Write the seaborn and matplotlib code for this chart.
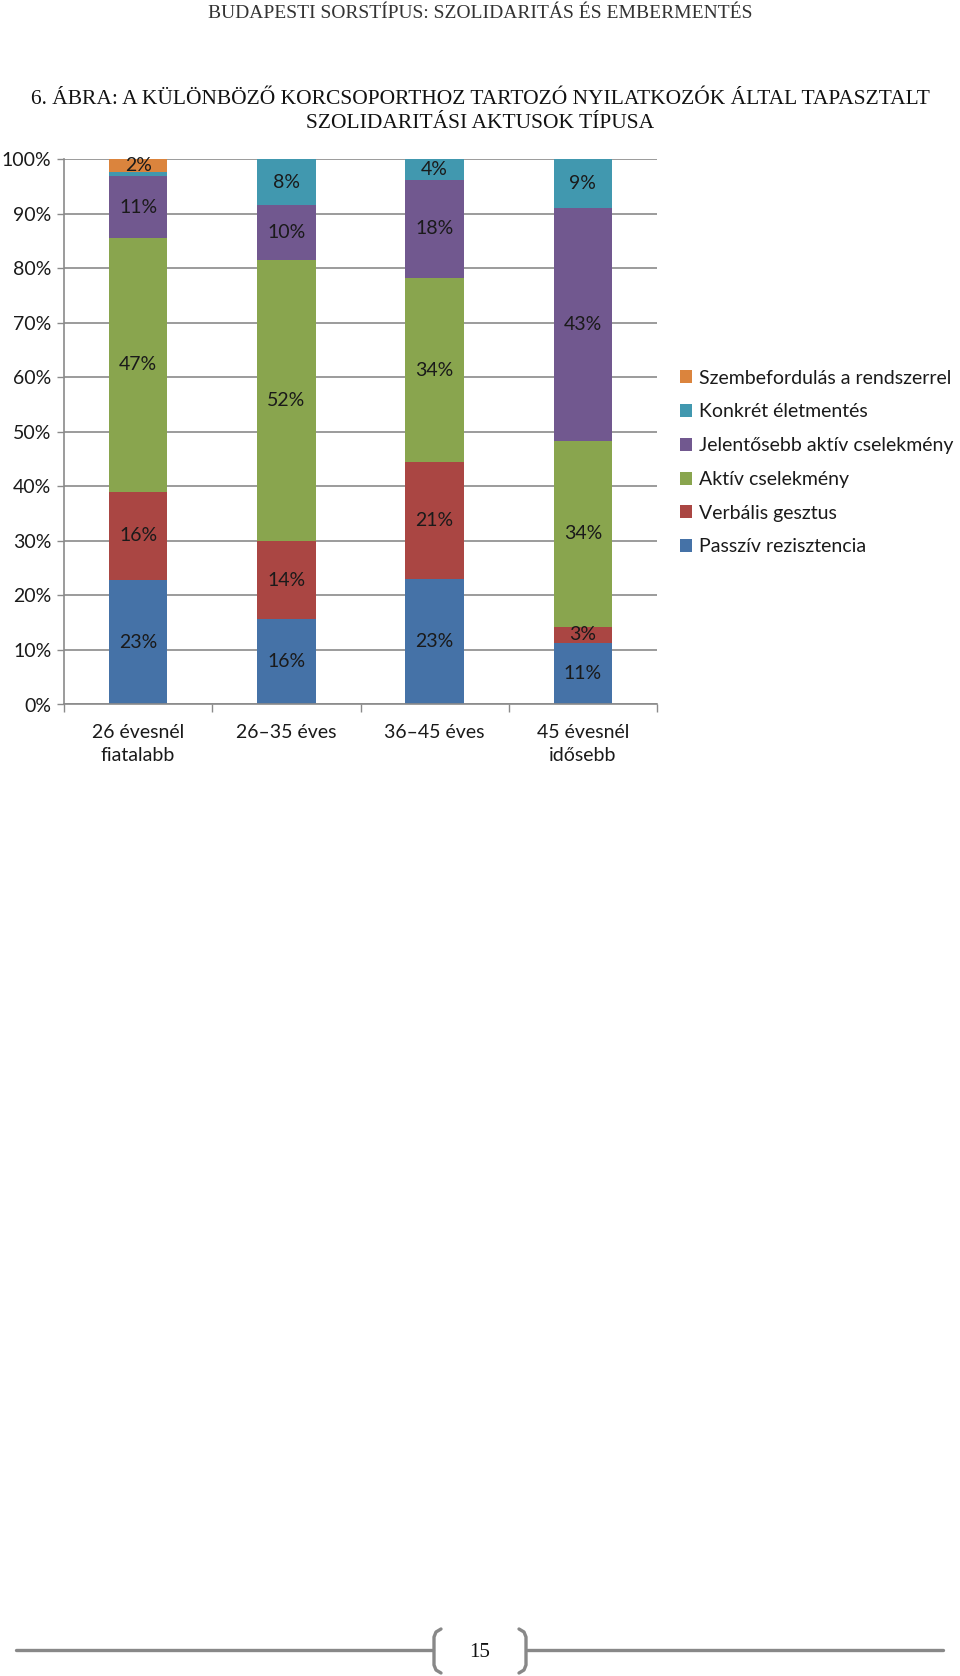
import numpy as np
import matplotlib
matplotlib.use("Agg")
import matplotlib.pyplot as plt
import seaborn as sns
from matplotlib.patches import Patch
from matplotlib.lines import Line2D

# age groups and the six stacked series (percent, bottom to top)
categories = ["26 évesnél\nfiatalabb", "26–35 éves", "36–45 éves", "45 évesnél\nidősebb"]
passziv = [22.9, 15.7, 23.0, 11.3]
verbalis = [16.1, 14.2, 21.4, 3.0]
aktiv = [46.6, 51.7, 33.9, 34.1]
jelentosebb = [11.3, 10.0, 17.9, 42.6]
konkret = [0.7, 8.4, 3.8, 9.0]
szembe = [2.4, 0.0, 0.0, 0.0]

series_names = ["Passzív rezisztencia", "Verbális gesztus", "Aktív cselekmény",
                "Jelentősebb aktív cselekmény", "Konkrét életmentés",
                "Szembefordulás a rendszerrel"]
series_values = [passziv, verbalis, aktiv, jelentosebb, konkret, szembe]
colors = ["#4572A7", "#AA4643", "#89A54E", "#71588F", "#4198AF", "#DB843D"]
yticks = list(range(0, 101, 10))

sns.set_style("white")
plt.rcParams["font.family"] = ["Lato", "DejaVu Sans"]

W, H = 960, 1676
fig = plt.figure(figsize=(W / 100, H / 100), dpi=100)
fig.patch.set_facecolor("white")

# axes placed in pixel terms
left, right, top, bottom = 64, 657, 159.3, 704.5
ax = fig.add_axes([left / W, 1 - bottom / H, (right - left) / W, (bottom - top) / H])

text_col = "#1a1a1a"
grid_col = "#8a8a8a"

base = np.zeros(len(categories))
for name, vals, col in zip(series_names, series_values, colors):
    sns.barplot(x=categories, y=vals, order=categories, bottom=base.copy(),
                color=col, width=0.395, saturation=1, linewidth=0, ax=ax)
    labels = [f"{v:.0f}%" if v >= 1 else "" for v in vals]
    ax.bar_label(ax.containers[-1], labels=labels, label_type="center",
                 fontsize=14, color=text_col)
    base += np.array(vals)

ax.set_ylim(0, 100)
ax.set_xlim(-0.5, len(categories) - 0.5)
ax.set_yticks(yticks)
ax.set_yticklabels([f"{t}%" for t in yticks], fontsize=14, color=text_col)
for lab in ax.get_xticklabels():
    lab.set_linespacing(1.45)
ax.yaxis.grid(True, color=grid_col, linewidth=1.2)
ax.set_axisbelow(True)
ax.tick_params(axis="x", length=0, pad=14, labelsize=14, labelcolor=text_col)
ax.tick_params(axis="y", length=5, width=1, color=grid_col, pad=4, left=True)
ax.set_xticks(np.arange(-0.5, len(categories), 1.0), minor=True)
ax.tick_params(axis="x", which="minor", length=6, width=1, color=grid_col, bottom=True)
for s in ["top", "right"]:
    ax.spines[s].set_visible(False)
for s in ["left", "bottom"]:
    ax.spines[s].set_color(grid_col)
    ax.spines[s].set_linewidth(1.2)
ax.set_xlabel("")
ax.set_ylabel("")

# legend, top entry is the last series
handles = [Patch(facecolor=c, edgecolor="none") for c in colors[::-1]]
fig.legend(handles, series_names[::-1], loc="upper left",
           bbox_to_anchor=(670 / W, 1 - 360 / H), frameon=False,
           fontsize=14, handlelength=0.65, handleheight=0.65,
           handletextpad=0.35, labelspacing=0.86, borderpad=0,
           labelcolor=text_col)

# page header and figure title
fig.text(0.5, 1 - 14 / H, "BUDAPESTI SORSTÍPUS: SZOLIDARITÁS ÉS EMBERMENTÉS",
         ha="center", va="center", fontsize=14, family="Liberation Serif",
         color="#333333")
fig.text(0.5, 1 - 100 / H,
         "6. ÁBRA: A KÜLÖNBÖZŐ KORCSOPORTHOZ TARTOZÓ NYILATKOZÓK ÁLTAL TAPASZTALT",
         ha="center", va="center", fontsize=15.5, family="Liberation Serif",
         color="#111111")
fig.text(0.5, 1 - 124 / H, "SZOLIDARITÁSI AKTUSOK TÍPUSA",
         ha="center", va="center", fontsize=15.5, family="Liberation Serif",
         color="#111111")

# footer line with bracketed page number
foot_col = "#888888"
fy = 1650
def px(xs, ys):
    return [x / W for x in xs], [1 - y / H for y in ys]

for xs, ys in [([16, 433], [fy, fy]), ([527, 943], [fy, fy]),
               ([441, 436, 434, 434, 436, 441], [1629, 1632, 1637, 1665, 1670, 1673]),
               ([519, 524, 526, 526, 524, 519], [1629, 1632, 1637, 1665, 1670, 1673])]:
    fx, fyy = px(xs, ys)
    fig.add_artist(Line2D(fx, fyy, transform=fig.transFigure, color=foot_col,
                          linewidth=2.4, solid_capstyle="round"))
fig.text(480 / W, 1 - 1652 / H, "15", ha="center", va="center", fontsize=15,
         family="Liberation Serif", color="#111111")

fig.savefig("out.png", dpi=100, facecolor="white")
